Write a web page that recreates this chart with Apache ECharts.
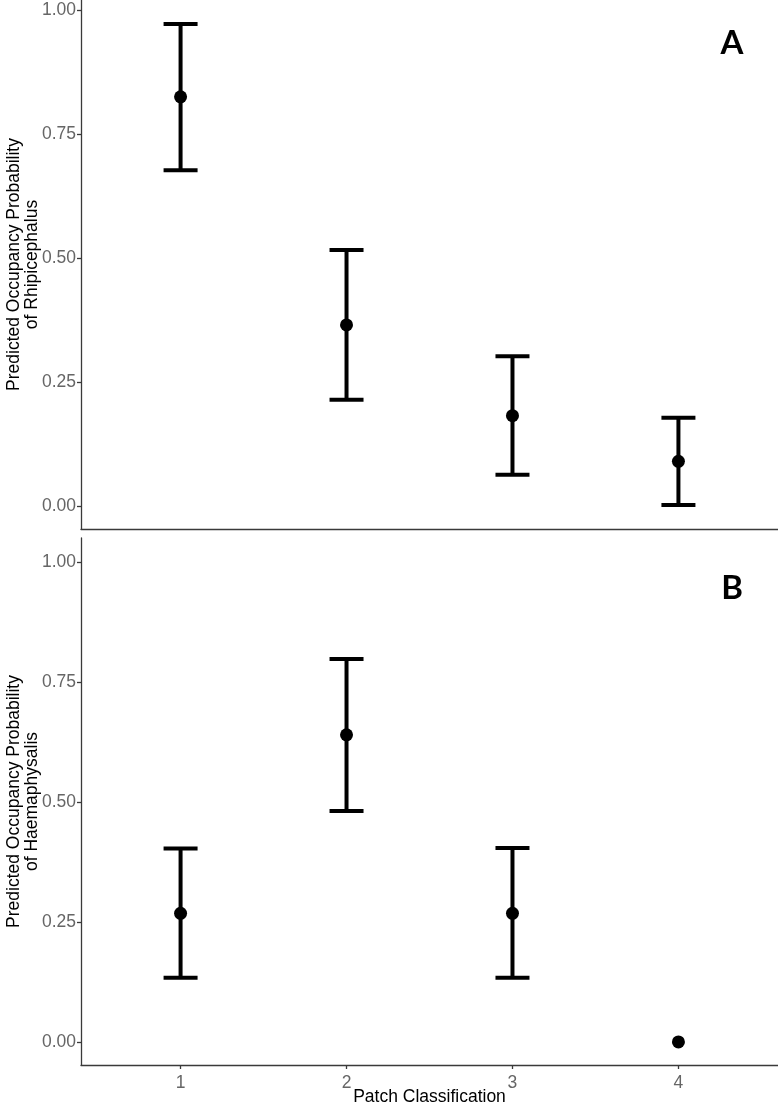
<!DOCTYPE html>
<html>
<head>
<meta charset="utf-8">
<style>html,body{margin:0;padding:0;background:#fff}#c{width:778px;height:1106px}</style>
<script src="https://cdn.jsdelivr.net/npm/echarts@6/dist/echarts.min.js"></script>
</head>
<body>
<div id="c"></div>
<script>
var categories = [1, 2, 3, 4];
var yTicks = [0, 0.25, 0.5, 0.75, 1];
var topMean = [0.825, 0.365, 0.182, 0.090];
var topLow = [0.677, 0.214, 0.063, 0.002];
var topHigh = [0.972, 0.516, 0.302, 0.178];
var botMean = [0.268, 0.640, 0.268, 0.000];
var botLow = [0.134, 0.481, 0.134, null];
var botHigh = [0.403, 0.798, 0.404, null];

var chart = echarts.init(document.getElementById('c'), null, {renderer: 'canvas'});

function errData(low, high) {
  var d = [];
  for (var i = 0; i < categories.length; i++) {
    if (low[i] != null && high[i] != null) d.push([categories[i], low[i], high[i]]);
  }
  return d;
}
function ptData(mean) {
  return categories.map(function (c, i) { return [c, mean[i]]; });
}
function renderErr(params, api) {
  var x = api.value(0);
  var lo = api.coord([x, api.value(1)]);
  var hi = api.coord([x, api.value(2)]);
  var hw = 17;
  var st = {stroke: '#000', lineWidth: 4};
  return {
    type: 'group',
    children: [
      {type: 'line', shape: {x1: lo[0], y1: lo[1], x2: hi[0], y2: hi[1]}, style: st},
      {type: 'line', shape: {x1: hi[0] - hw, y1: hi[1], x2: hi[0] + hw, y2: hi[1]}, style: st},
      {type: 'line', shape: {x1: lo[0] - hw, y1: lo[1], x2: lo[0] + hw, y2: lo[1]}, style: st}
    ]
  };
}
var axisLineStyle = {color: '#3a3a3a', width: 1.3};
var labelFont = {color: '#666666', fontSize: 17.5, fontFamily: 'Liberation Sans'};

function yAxisDef(idx, name, min, max) {
  return {
    type: 'value', gridIndex: idx, min: min, max: max,
    name: name, nameLocation: 'middle', nameGap: 58, nameRotate: 90, nameMoveOverlap: false,
    nameTextStyle: {color: '#000', fontSize: 17.5, fontFamily: 'Liberation Sans', lineHeight: 18, align: 'center', verticalAlign: 'middle'},
    axisLine: {show: true, lineStyle: axisLineStyle},
    axisTick: {show: true, length: 4, lineStyle: axisLineStyle, customValues: yTicks},
    axisLabel: Object.assign({margin: 5, customValues: yTicks, formatter: function (v) { return v.toFixed(2); }}, labelFont),
    splitLine: {show: false}
  };
}

chart.setOption({
  animation: false,
  backgroundColor: '#fff',
  grid: [
    {left: 81, top: 0, width: 697, height: 529, containLabel: false, outerBoundsMode: 'none'},
    {left: 81, top: 538, width: 697, height: 527, containLabel: false, outerBoundsMode: 'none'}
  ],
  xAxis: [
    {type: 'value', gridIndex: 0, min: 0.4, max: 4.6,
     axisLine: {show: true, onZero: false, lineStyle: axisLineStyle},
     axisTick: {show: false}, axisLabel: {show: false}, splitLine: {show: false}},
    {type: 'value', gridIndex: 1, min: 0.4, max: 4.6,
     name: 'Patch Classification', nameLocation: 'middle', nameGap: 32, nameMoveOverlap: false,
     nameTextStyle: {color: '#000', fontSize: 17.5, fontFamily: 'Liberation Sans', align: 'center', verticalAlign: 'middle'},
     axisLine: {show: true, onZero: false, lineStyle: axisLineStyle},
     axisTick: {show: true, length: 4, lineStyle: axisLineStyle, customValues: categories},
     axisLabel: Object.assign({margin: 9, customValues: categories}, labelFont),
     splitLine: {show: false}}
  ],
  yAxis: [
    yAxisDef(0, 'Predicted Occupancy Probability\nof Rhipicephalus', -0.0464, 1.0202),
    yAxisDef(1, 'Predicted Occupancy Probability\nof Haemaphysalis', -0.048, 1.05)
  ],
  series: [
    {type: 'custom', xAxisIndex: 0, yAxisIndex: 0, renderItem: renderErr, data: errData(topLow, topHigh)},
    {type: 'scatter', xAxisIndex: 0, yAxisIndex: 0, symbolSize: 13, itemStyle: {color: '#000', opacity: 1}, data: ptData(topMean)},
    {type: 'custom', xAxisIndex: 1, yAxisIndex: 1, renderItem: renderErr, data: errData(botLow, botHigh)},
    {type: 'scatter', xAxisIndex: 1, yAxisIndex: 1, symbolSize: 13, itemStyle: {color: '#000', opacity: 1}, data: ptData(botMean)}
  ],
  graphic: [
    {type: 'text', x: 732, y: 43, style: {text: 'A', fontSize: 33, fontWeight: 'bold', fontFamily: 'Lato', fill: '#000', align: 'center', verticalAlign: 'middle'}},
    {type: 'text', x: 732, y: 588, style: {text: 'B', fontSize: 33, fontWeight: 'bold', fontFamily: 'Lato', fill: '#000', align: 'center', verticalAlign: 'middle'}}
  ]
});
</script>
</body>
</html>
